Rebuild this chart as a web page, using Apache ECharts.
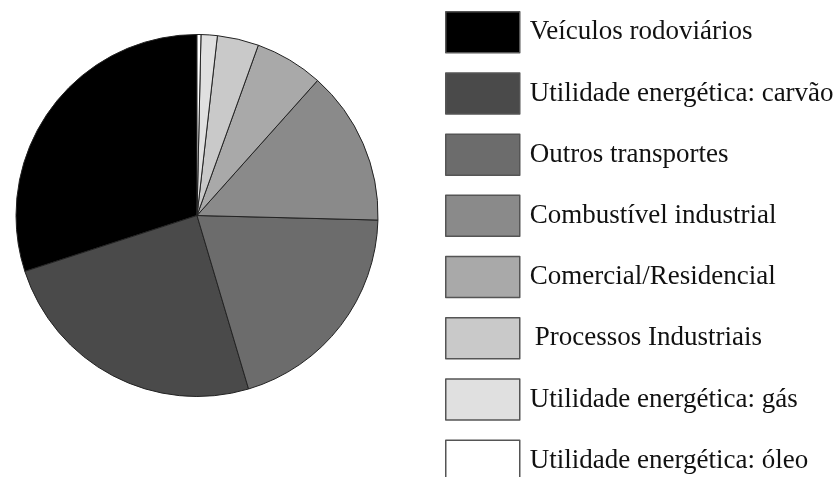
<!DOCTYPE html>
<html>
<head>
<meta charset="utf-8">
<script src="https://cdn.jsdelivr.net/npm/echarts@6/dist/echarts.min.js"></script>
<style>
html, body { margin: 0; padding: 0; background: #fff; }
#main { width: 833px; height: 477px; }
</style>
</head>
<body>
<div id="main"></div>
<script>
// fontes de emissão (ordem da legenda)
var categorias = ['Veículos rodoviários', 'Utilidade energética: carvão', 'Outros transportes',
	'Combustível industrial', 'Comercial/Residencial', 'Processos Industriais',
	'Utilidade energética: gás', 'Utilidade energética: óleo'];
var valores = [30.0, 24.6, 20.0, 13.8, 6.1, 3.7, 1.45, 0.35];

// tons de cinza de cada fatia
var cores = ['#000000', '#4a4a4a', '#6c6c6c', '#8a8a8a', '#a9a9a9', '#c9c9c9', '#e0e0e0', '#ffffff'];

function initPie(){
	var myChart = echarts.init(document.getElementById('main'));
	var dados = [];
	var itensLegenda = [];
	for (var i = 0; i < categorias.length; i++) {
		dados.push({ name: categorias[i], value: valores[i] });
		// no original "Processos Industriais" vem um pouco recuado
		if (categorias[i] == 'Processos Industriais') {
			itensLegenda.push({ name: categorias[i], textStyle: { padding: [0, 0, 0, 10] } });
		} else {
			itensLegenda.push(categorias[i]);
		}
	}
	var option = {
		animation: false,
		color: cores,
		legend: {
			orient: 'vertical',
			left: 440,
			top: 6,
			height: 700,
			itemWidth: 74,
			itemHeight: 41,
			itemGap: 18.7,
			icon: 'rect',
			data: itensLegenda,
			itemStyle: {
				borderColor: '#555',
				borderWidth: 1.5
			},
			textStyle: {
				fontFamily: 'Liberation Serif',
				fontSize: 27,
				color: '#111',
				padding: [0, 0, 0, 5]
			}
		},
		series: [{
			type: 'pie',
			center: [197, 215.5],
			radius: 181,
			startAngle: 90,
			clockwise: false,
			label: { show: false },
			labelLine: { show: false },
			emphasis: { disabled: true },
			itemStyle: {
				borderColor: '#222',
				borderWidth: 1
			},
			data: dados
		}]
	};
	myChart.setOption(option);
}

initPie();
</script>
</body>
</html>
